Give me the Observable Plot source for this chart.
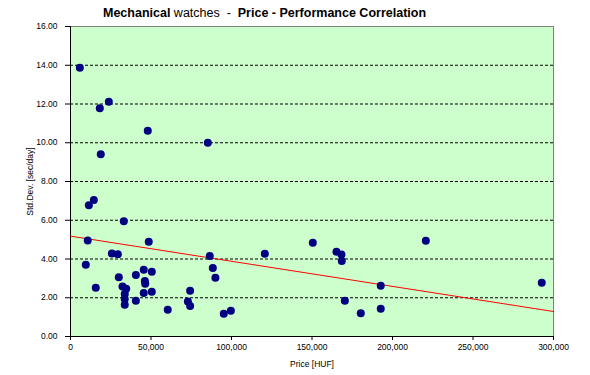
<!DOCTYPE html>
<html><head><meta charset="utf-8">
<script src="https://cdn.jsdelivr.net/npm/d3@7"></script>
<script src="https://cdn.jsdelivr.net/npm/@observablehq/plot@0.6"></script>
<style>
body{margin:0;background:#fff;font-family:"Liberation Sans",Arial,sans-serif;position:relative;}
#title{position:absolute;left:103px;top:0;height:24px;line-height:26px;font-size:12.5px;white-space:pre;color:#000;z-index:2;}
#chart svg{display:block;}
</style></head><body>
<div id="title"><b>Mechanical</b> watches  -  <b>Price - Performance Correlation</b></div>
<div id="chart"></div>
<script>
const price = [5800, 9500, 10700, 11400, 14500, 15700, 18200, 18800, 23800, 25700,
  29400, 30000, 32300, 33100, 33700, 33700, 33700, 34600, 40600, 40600,
  45500, 45500, 46200, 46400, 48000, 48600, 50500, 50500, 60400, 72900,
  74300, 74300, 85300, 86500, 88400, 90000, 95200, 99600, 120700, 150500,
  165200, 168300, 168500, 170400, 180300, 192700, 192700, 220700, 292700];
const stdDev = [13.87, 3.70, 4.95, 6.78, 7.05, 2.51, 11.78, 9.41, 12.11, 4.28,
  4.25, 3.06, 2.58, 5.95, 2.20, 1.94, 1.64, 2.46, 3.18, 1.84,
  3.44, 2.25, 2.86, 2.72, 10.62, 4.89, 3.34, 2.31, 1.38, 1.81,
  2.36, 1.58, 10.00, 4.15, 3.54, 3.03, 1.17, 1.33, 4.27, 4.84,
  4.37, 4.23, 3.90, 1.84, 1.20, 2.62, 1.43, 4.94, 2.77];
const trendPrice = [0, 300000];
const trendStdDev = [5.18, 1.29];
const yTicks = [0, 2, 4, 6, 8, 10, 12, 14, 16];
const yGrid = [2, 4, 6, 8, 10, 12, 14];
const xTicks = [0, 50000, 100000, 150000, 200000, 250000, 300000];

const points = price.map((p, i) => ({price: p, sd: stdDev[i]}));
const trend = trendPrice.map((p, i) => ({price: p, sd: trendStdDev[i]}));
const xFmt = d => d === 0 ? "0" : d3.format(",")(d);

const chart = Plot.plot({
  width: 590,
  height: 375,
  marginTop: 26,
  marginLeft: 70,
  marginRight: 37,
  marginBottom: 39,
  style: {fontFamily: "'Liberation Sans', Arial, sans-serif", fontSize: "8.5px", color: "#000", background: "#fff"},
  x: {domain: [0, 300000]},
  y: {domain: [0, 16]},
  marks: [
    Plot.frame({fill: "#CCFFCC", stroke: "#808080"}),
    Plot.ruleY(yGrid, {stroke: "#000", strokeDasharray: "3,2", strokeWidth: 1}),
    Plot.axisY({ticks: yTicks, tickFormat: d3.format(".2f"), tickSize: 5, tickPadding: 8,
      label: "Std.Dev. [sec/day]", labelAnchor: "center", labelOffset: 44, labelArrow: "none", fontSize: 8.5}),
    Plot.axisX({ticks: xTicks, tickFormat: xFmt, tickSize: 4, tickPadding: 3,
      label: "Price [HUF]", labelAnchor: "center", labelOffset: 30, labelArrow: "none", fontSize: 8.5}),
    Plot.ruleX([0], {stroke: "#000"}),
    Plot.ruleY([0], {stroke: "#000"}),
    Plot.line(trend, {x: "price", y: "sd", stroke: "#FF0000", strokeWidth: 1}),
    Plot.dot(points, {x: "price", y: "sd", r: 4, fill: "#000080", stroke: "none"})
  ]
});
document.getElementById("chart").appendChild(chart);
</script>
</body></html>
